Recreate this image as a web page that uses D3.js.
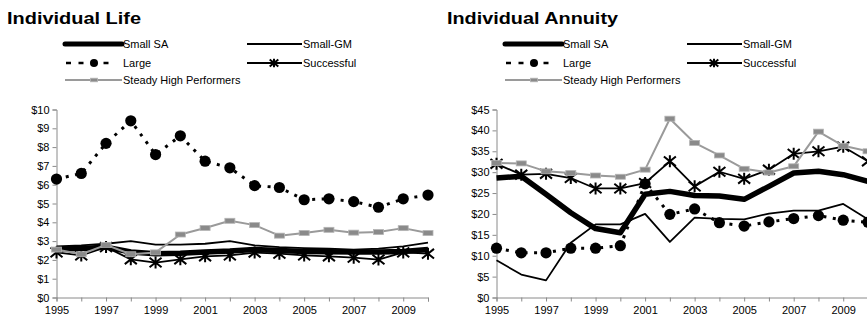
<!DOCTYPE html>
<html>
<head>
<meta charset="utf-8">
<script src="https://cdn.jsdelivr.net/npm/d3@7"></script>
<style>
  html, body { margin: 0; padding: 0; background: #fff; overflow: hidden; }
  svg { display: block; font-family: "Liberation Sans", Arial, sans-serif; }
</style>
</head>
<body>
<svg id="chart" width="867" height="320"></svg>
<script>
// Years on the x axis
const years = [1995, 1996, 1997, 1998, 1999, 2000, 2001, 2002, 2003, 2004, 2005, 2006, 2007, 2008, 2009, 2010];
const yearLabels = [1995, 1997, 1999, 2001, 2003, 2005, 2007, 2009];
const seriesNames = ["Small SA", "Small-GM", "Large", "Successful", "Steady High Performers"];
const panelTitles = ["Individual Life", "Individual Annuity"];

// Individual Life, dollars
const lifeTicks = [0, 1, 2, 3, 4, 5, 6, 7, 8, 9, 10];
const lifeSmallSA = [2.58, 2.6, 2.68, 2.42, 2.33, 2.36, 2.42, 2.47, 2.55, 2.5, 2.45, 2.44, 2.42, 2.42, 2.45, 2.55];
const lifeSmallGM = [2.72, 2.77, 2.86, 3.0, 2.81, 2.81, 2.86, 3.0, 2.77, 2.68, 2.63, 2.6, 2.55, 2.6, 2.72, 2.92];
const lifeLarge = [6.3, 6.6, 8.2, 9.4, 7.6, 8.6, 7.25, 6.9, 5.95, 5.85, 5.2, 5.25, 5.1, 4.8, 5.25, 5.45];
const lifeSuccessful = [2.4, 2.24, 2.68, 2.03, 1.86, 2.03, 2.19, 2.24, 2.39, 2.33, 2.24, 2.19, 2.12, 2.02, 2.4, 2.33];
const lifeSteady = [2.55, 2.3, 2.8, 2.3, 2.4, 3.35, 3.7, 4.08, 3.85, 3.29, 3.43, 3.6, 3.45, 3.48, 3.69, 3.43];

// Individual Annuity, dollars
const annTicks = [0, 5, 10, 15, 20, 25, 30, 35, 40, 45];
const annSmallSA = [28.6, 29.0, 24.7, 20.3, 16.5, 15.5, 24.7, 25.4, 24.4, 24.3, 23.5, 26.6, 29.8, 30.2, 29.4, 27.8];
const annSmallGM = [8.9, 5.5, 4.1, 13.1, 17.5, 17.5, 20.0, 13.3, 19.1, 18.8, 18.7, 20.1, 20.8, 20.8, 22.4, 18.7];
const annLarge = [11.8, 10.7, 10.7, 11.8, 11.8, 12.4, 27.2, 19.9, 21.2, 17.9, 17.1, 18.1, 18.9, 19.6, 18.5, 18.0];
const annSuccessful = [32.0, 29.4, 29.6, 28.6, 26.1, 26.1, 27.4, 32.6, 26.6, 30.1, 28.4, 30.6, 34.4, 35.0, 36.1, 32.6];
const annSteady = [32.2, 32.1, 30.2, 29.8, 29.2, 28.9, 30.6, 42.8, 37.0, 34.0, 30.8, 29.9, 31.4, 39.7, 36.3, 35.0];

const svg = d3.select("#chart");

// Excel-style asterisk marker: an X crossed by a vertical bar
function starPath(w, h) {
  return `M${-w},${-h * 0.8}L${w},${h * 0.8}M${-w},${h * 0.8}L${w},${-h * 0.8}M0,${-h}L0,${h}`;
}

const styles = {
  "Small SA": { stroke: "#000", width: 5.5 },
  "Small-GM": { stroke: "#000", width: 1.8 },
  "Large": { stroke: "#000", width: 3, dash: "3,6.5", marker: "circle" },
  "Successful": { stroke: "#000", width: 1.8, marker: "star" },
  "Steady High Performers": { stroke: "#9a9a9a", width: 2, marker: "rect" }
};

function drawMarker(g, type, x, y, scale) {
  if (type === "circle") {
    g.append("circle").attr("cx", x).attr("cy", y).attr("r", 5.6 * scale).attr("fill", "#000");
  } else if (type === "star") {
    g.append("path").attr("transform", `translate(${x},${y})`)
      .attr("d", starPath(6 * scale, 6 * scale))
      .attr("stroke", "#000").attr("stroke-width", 2).attr("fill", "none");
  } else if (type === "rect") {
    g.append("rect").attr("x", x - 5 * scale).attr("y", y - 2.5 * scale)
      .attr("width", 10 * scale).attr("height", 5 * scale)
      .attr("fill", "#8a8a8a").attr("stroke", "#b5b5b5").attr("stroke-width", 0.8);
  }
}

function drawPanel(ox, title, titleLen, ticks, yMax, data) {
  const g = svg.append("g");

  // Title
  g.append("text").attr("x", ox + 7).attr("y", 23.5)
    .attr("font-size", 17).attr("font-weight", "bold")
    .attr("textLength", titleLen).attr("lengthAdjust", "spacingAndGlyphs")
    .text(title);

  // Legend
  const leg = g.append("g").attr("font-size", 11);
  const legendItems = [
    { name: "Small SA", x0: 65, x1: 122, y: 44, tx: 123 },
    { name: "Small-GM", x0: 247, x1: 302, y: 44, tx: 303 },
    { name: "Large", x0: 66, x1: 115, y: 63, tx: 123, mx: 94 },
    { name: "Successful", x0: 247, x1: 302, y: 63, tx: 303, mx: 274 },
    { name: "Steady High Performers", x0: 65, x1: 122, y: 80, tx: 123, mx: 94 }
  ];
  legendItems.forEach(it => {
    const st = styles[it.name];
    leg.append("line")
      .attr("x1", ox + it.x0).attr("x2", ox + it.x1).attr("y1", it.y).attr("y2", it.y)
      .attr("stroke", st.stroke)
      .attr("stroke-width", it.name === "Large" ? 2.5 : Math.min(st.width, 5))
      .attr("stroke-linecap", it.name === "Small SA" ? "round" : "butt")
      .attr("stroke-dasharray", it.name === "Large" ? "5,7.5" : null);
    if (st.marker) drawMarker(leg, st.marker, ox + it.mx, it.y, 0.72);
    leg.append("text").attr("x", ox + it.tx).attr("y", it.y + 4).text(it.name);
  });

  // Scales
  const x = d3.scaleLinear().domain([1995, 2010]).range([ox + 56.5, ox + 428]);
  const y = d3.scaleLinear().domain([0, yMax]).range([297.5, 109.5]);

  // Axes
  const yAxis = d3.axisLeft(y).tickValues(ticks).tickSize(4).tickPadding(3)
    .tickFormat(d => "$" + d);
  const ya = g.append("g").attr("transform", `translate(${ox + 56.5},0)`).call(yAxis);
  const xAxis = d3.axisBottom(x).tickValues(years).tickSize(4).tickPadding(5)
    .tickFormat(d => yearLabels.includes(d) ? String(d) : "");
  const xa = g.append("g").attr("transform", "translate(0,297.5)").call(xAxis);
  [ya, xa].forEach(a => {
    a.select(".domain").attr("stroke", "#8a8a8a");
    a.selectAll(".tick line").attr("stroke", "#8a8a8a");
    a.selectAll("text").attr("font-size", 11).attr("fill", "#000")
      .attr("font-family", "'Liberation Sans', Arial, sans-serif");
  });

  // Series lines, drawn in legend order
  const line = d3.line().x((d, i) => x(years[i])).y(d => y(d));
  seriesNames.forEach(name => {
    const st = styles[name];
    const vals = data[name];
    g.append("path").datum(vals).attr("d", line)
      .attr("fill", "none").attr("stroke", st.stroke).attr("stroke-width", st.width)
      .attr("stroke-linejoin", "round")
      .attr("stroke-dasharray", st.dash || null);
    if (st.marker) {
      const mg = g.append("g");
      vals.forEach((v, i) => drawMarker(mg, st.marker, x(years[i]), y(v), 1));
    }
  });
}

drawPanel(0, panelTitles[0], 134, lifeTicks, 10, {
  "Small SA": lifeSmallSA, "Small-GM": lifeSmallGM, "Large": lifeLarge,
  "Successful": lifeSuccessful, "Steady High Performers": lifeSteady
});
drawPanel(440, panelTitles[1], 171, annTicks, 45, {
  "Small SA": annSmallSA, "Small-GM": annSmallGM, "Large": annLarge,
  "Successful": annSuccessful, "Steady High Performers": annSteady
});
</script>
</body>
</html>
